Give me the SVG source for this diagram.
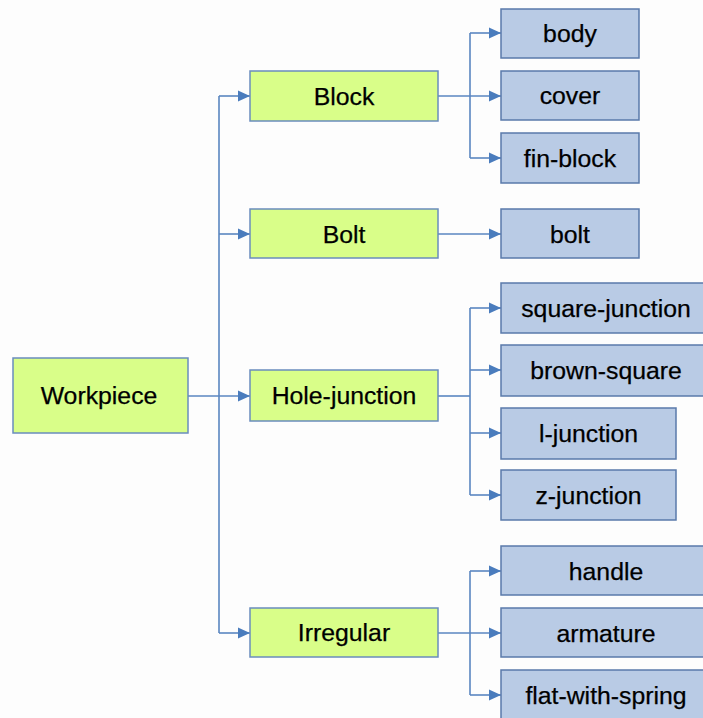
<svg xmlns="http://www.w3.org/2000/svg" width="703" height="718" viewBox="0 0 703 718">
  <defs>
    <marker id="arrow" markerUnits="userSpaceOnUse" markerWidth="13" markerHeight="12" refX="12" refY="6" orient="auto">
      <path d="M0,0.5 L12,6 L0,11.5 Z" fill="#4a7cbd"/>
    </marker>
    <style>
      .bg { fill: #fdfdfd; }
      .cat rect { fill: #d9fe89; stroke: #6a8cbd; stroke-width: 1.5; }
      .part rect { fill: #b9cbe5; stroke: #5a7aaa; stroke-width: 1.5; }
      text { font-family: "Liberation Sans", Arial, sans-serif; font-size: 24.8px; fill: #000; text-anchor: middle; stroke: #000; stroke-width: 0.25; }
      .conn path { fill: none; stroke: #5a86c0; stroke-width: 1.6; }
      .conn path.arr { marker-end: url(#arrow); }
    </style>
  </defs>

  <rect class="bg" x="0" y="0" width="703" height="718"/>

  <!-- connectors -->
  <g id="connectors" class="conn">
    <!-- root to categories -->
    <path class="arr" d="M188,396 H250"/>
    <path d="M219,96 V633"/>
    <path class="arr" d="M219,96 H250"/>
    <path class="arr" d="M219,234 H250"/>
    <path class="arr" d="M219,633 H250"/>
    <!-- Block -->
    <path class="arr" d="M438,96 H501"/>
    <path d="M470,33 V158"/>
    <path class="arr" d="M470,33 H501"/>
    <path class="arr" d="M470,158 H501"/>
    <!-- Bolt -->
    <path class="arr" d="M438,234 H501"/>
    <!-- Hole-junction -->
    <path d="M438,396 H470"/>
    <path d="M470,308 V495"/>
    <path class="arr" d="M470,308 H501"/>
    <path class="arr" d="M470,370 H501"/>
    <path class="arr" d="M470,433 H501"/>
    <path class="arr" d="M470,495 H501"/>
    <!-- Irregular -->
    <path class="arr" d="M438,633 H501"/>
    <path d="M470,571 V695"/>
    <path class="arr" d="M470,571 H501"/>
    <path class="arr" d="M470,695 H501"/>
  </g>

  <!-- root -->
  <g id="workpiece" class="cat"><rect x="13" y="358" width="175" height="75"/><text x="99" y="404">Workpiece</text></g>

  <!-- categories -->
  <g id="block" class="cat"><rect x="250" y="71" width="188" height="50"/><text x="344" y="105">Block</text></g>
  <g id="bolt-cat" class="cat"><rect x="250" y="209" width="188" height="49"/><text x="344" y="243">Bolt</text></g>
  <g id="hole-junction" class="cat"><rect x="250" y="370" width="188" height="51"/><text x="344" y="404">Hole-junction</text></g>
  <g id="irregular" class="cat"><rect x="250" y="608" width="188" height="49"/><text x="344" y="641">Irregular</text></g>

  <!-- parts -->
  <g id="body" class="part"><rect x="501" y="9" width="138" height="49"/><text x="570" y="42">body</text></g>
  <g id="cover" class="part"><rect x="501" y="71" width="138" height="49"/><text x="570" y="104">cover</text></g>
  <g id="fin-block" class="part"><rect x="501" y="133" width="138" height="50"/><text x="570" y="167">fin-block</text></g>
  <g id="bolt" class="part"><rect x="501" y="209" width="138" height="49"/><text x="570" y="243">bolt</text></g>

  <g id="square-junction" class="part"><rect x="501" y="283" width="210" height="50"/><text x="606" y="317">square-junction</text></g>
  <g id="brown-square" class="part"><rect x="501" y="345" width="210" height="51"/><text x="606" y="379">brown-square</text></g>
  <g id="l-junction" class="part"><rect x="501" y="408" width="175" height="51"/><text x="588.5" y="442">l-junction</text></g>
  <g id="z-junction" class="part"><rect x="501" y="470" width="175" height="50"/><text x="588.5" y="504">z-junction</text></g>

  <g id="handle" class="part"><rect x="501" y="546" width="210" height="49"/><text x="606" y="580">handle</text></g>
  <g id="armature" class="part"><rect x="501" y="608" width="210" height="49"/><text x="606" y="642">armature</text></g>
  <g id="flat-with-spring" class="part"><rect x="501" y="670" width="210" height="50"/><text x="606" y="704">flat-with-spring</text></g>
</svg>
